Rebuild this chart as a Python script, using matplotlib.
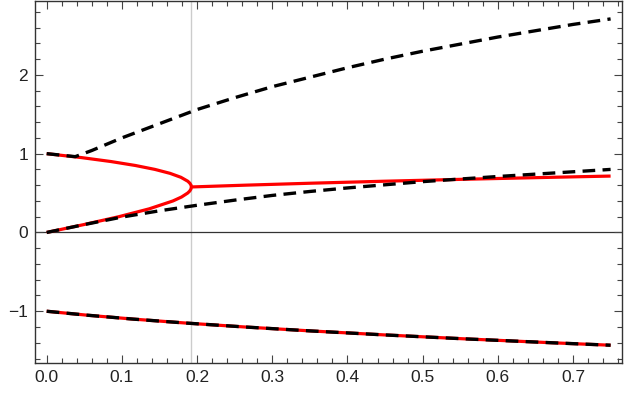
import matplotlib
matplotlib.use("Agg")
import matplotlib.pyplot as plt
import matplotlib.ticker as ptick

# 赤い実線（上の二つの根：0→合流点→1）
red_top_x = [0, 0.0495, 0.096, 0.1365, 0.168, 0.1794, 0.1875, 0.1902, 0.1918, 0.19245,
             0.192, 0.1904, 0.1877, 0.1785, 0.1641, 0.144, 0.1179, 0.0855, 0.0463, 0]
red_top_y = [0, 0.1, 0.2, 0.3, 0.4, 0.45, 0.5, 0.525, 0.55, 0.5774,
             0.6, 0.625, 0.65, 0.7, 0.75, 0.8, 0.85, 0.9, 0.95, 1.0]

# 赤い実線（合流点から右）
red_mid_x = [0.19245, 0.264, 0.3516, 0.4485, 0.5552, 0.672, 0.75]
red_mid_y = [0.5774, 0.6, 0.625, 0.65, 0.675, 0.7, 0.7156]

# 赤い実線（下の根）
red_bot_x = [0, 0.0538, 0.1155, 0.1854, 0.264, 0.3516, 0.4485, 0.5552, 0.672, 0.75]
red_bot_y = [-1.0, -1.05, -1.1, -1.15, -1.2, -1.25, -1.3, -1.35, -1.4, -1.4312]

# 黒い破線
dash_up_x = [0, 0.02, 0.038, 0.06, 0.1, 0.15, 0.2, 0.25, 0.3, 0.35, 0.4, 0.45,
             0.5, 0.55, 0.6, 0.65, 0.7, 0.75]
dash_up_y = [1.0, 0.98, 0.962, 1.04, 1.20, 1.38, 1.56, 1.71, 1.85, 1.97, 2.09, 2.20,
             2.30, 2.39, 2.48, 2.56, 2.64, 2.71]

dash_lo_x = [0, 0.05, 0.1, 0.15, 0.2, 0.25, 0.3, 0.35, 0.4, 0.45, 0.5, 0.55,
             0.6, 0.65, 0.7, 0.75]
dash_lo_y = [0, 0.10, 0.195, 0.275, 0.345, 0.41, 0.47, 0.52, 0.565, 0.605, 0.645,
             0.678, 0.71, 0.74, 0.77, 0.80]

dash_bot_x = [0, 0.0538, 0.1155, 0.1854, 0.264, 0.3516, 0.4485, 0.5552, 0.672, 0.75]
dash_bot_y = [-1.0, -1.05, -1.1, -1.15, -1.2, -1.25, -1.3, -1.35, -1.4, -1.4312]

x_crit = 0.19245  # 縦の灰色線

plt.rcParams['font.family'] = ["Liberation Sans", "DejaVu Sans"]
plt.rcParams['font.size'] = 12.5

fig = plt.figure(figsize=(6.24, 3.97), dpi=100)
ax = fig.add_axes([0.056, 0.086, 0.940, 0.912])

ax.axvline(x_crit, color="#cccccc", lw=1.0, zorder=1)
ax.axhline(0, color="#333333", lw=0.9, zorder=1)

red = dict(color="#ff0000", lw=2.3, solid_capstyle="butt", solid_joinstyle="round", zorder=2)
ax.plot(red_top_x, red_top_y, **red)
ax.plot(red_mid_x, red_mid_y, **red)
ax.plot(red_bot_x, red_bot_y, **red)

dash = dict(color="black", lw=2.4, dashes=(3.8, 2.2), zorder=3)
ax.plot(dash_up_x, dash_up_y, **dash)
ax.plot(dash_lo_x, dash_lo_y, **dash)
ax.plot(dash_bot_x, dash_bot_y, **dash)

ax.set_xlim(-0.0156, 0.7645)
ax.set_ylim(-1.655, 2.94)

ax.xaxis.set_major_locator(ptick.MultipleLocator(0.1))
ax.xaxis.set_minor_locator(ptick.MultipleLocator(0.02))
ax.yaxis.set_major_locator(ptick.MultipleLocator(1))
ax.yaxis.set_minor_locator(ptick.MultipleLocator(0.2))
ax.xaxis.set_major_formatter(ptick.FormatStrFormatter("%.1f"))
ax.yaxis.set_major_formatter(ptick.FuncFormatter(
    lambda v, p: ("\u2212%d" % -v) if v < 0 else "%d" % v))

ax.tick_params(which="both", direction="in", top=True, right=True,
               color="#444444", width=0.8, labelcolor="#222222")
ax.tick_params(which="major", length=6, pad=5)
ax.tick_params(which="minor", length=3.5)
for s in ax.spines.values():
    s.set_color("#333333")
    s.set_linewidth(1.0)

fig.savefig("out.png", dpi=100)
